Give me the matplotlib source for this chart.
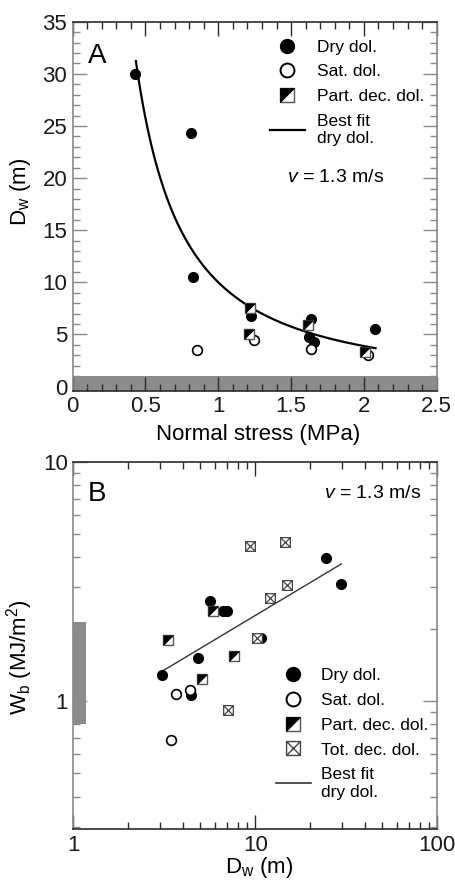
import matplotlib
matplotlib.use("Agg")
import matplotlib.pyplot as plt
import numpy as np
from matplotlib.lines import Line2D
from matplotlib.path import Path
from matplotlib.legend_handler import HandlerTuple
from matplotlib.ticker import MultipleLocator, LogLocator, FuncFormatter, NullFormatter

plt.rcParams['font.family'] = ['Liberation Sans', 'DejaVu Sans']
plt.rcParams['mathtext.fontset'] = 'custom'
plt.rcParams['mathtext.rm'] = 'Liberation Sans'
plt.rcParams['mathtext.it'] = 'Liberation Sans:italic'
plt.rcParams['mathtext.bf'] = 'Liberation Sans:bold'

# ---------------- Panel A data ----------------
a_dry_x = [0.43, 0.815, 0.826, 1.226, 1.637, 1.62, 1.655, 2.077]
a_dry_y = [30.0, 24.3, 10.5, 6.8, 6.5, 4.75, 4.3, 5.5]
a_sat_x = [0.856, 1.244, 1.637, 2.03]
a_sat_y = [3.47, 4.43, 3.63, 3.0]
a_part_x = [1.22, 1.21, 1.614, 2.01]
a_part_y = [7.5, 5.05, 5.9, 3.3]
a_fit_coef = 10.0      # D_w = a * sigma^b
a_fit_exp = -1.364
a_fit_range = (0.434, 2.08)
a_band_top = 1.0

# ---------------- Panel B data ----------------
b_dry_x = [3.07, 4.83, 4.42, 5.63, 6.66, 7.03, 24.6, 29.7, 10.7]
b_dry_y = [1.29, 1.52, 1.06, 2.61, 2.38, 2.38, 3.96, 3.09, 1.84]
b_sat_x = [3.66, 4.38, 3.45]
b_sat_y = [1.07, 1.11, 0.69]
b_part_x = [3.31, 5.08, 7.65, 5.88]
b_part_y = [1.81, 1.24, 1.55, 2.39]
b_tot_x = [9.39, 14.5, 14.9, 12.0, 10.2, 7.1]
b_tot_y = [4.46, 4.63, 3.07, 2.69, 1.83, 0.92]
b_fit_coef = 0.80      # W_b = a * D_w^b
b_fit_exp = 0.455
b_fit_range = (3.04, 29.7)
b_band_x = (1.0, 1.18)
b_band_y = (0.80, 2.15)

GRAY_SP = '#8a8a8a'
DARK_SP = '#2a2a2a'
BAND = '#8c8c8c'

tri_marker = [(-1, -1), (-1, 1), (1, 1), (-1, -1)]
sq_marker = [(-1, -1), (1, -1), (1, 1), (-1, 1), (-1, -1)]
tot_marker = Path([(-1, -1), (1, -1), (1, 1), (-1, 1), (-1, -1),
                   (-1, -1), (1, 1), (-1, 1), (1, -1)],
                  [Path.MOVETO, Path.LINETO, Path.LINETO, Path.LINETO, Path.CLOSEPOLY,
                   Path.MOVETO, Path.LINETO, Path.MOVETO, Path.LINETO])

fig = plt.figure(figsize=(4.56, 8.83), dpi=100)
axA = fig.add_axes([0.1594, 0.5575, 0.7982, 0.4179])
axB = fig.add_axes([0.1607, 0.0608, 0.7982, 0.4163])


def style_axes(ax):
    for s in ['left', 'right']:
        ax.spines[s].set_color(GRAY_SP)
        ax.spines[s].set_linewidth(1.2)
    for s in ['top', 'bottom']:
        ax.spines[s].set_color(DARK_SP)
        ax.spines[s].set_linewidth(1.2)
    ax.tick_params(axis='both', which='both', direction='in', top=True, right=True,
                   labelsize=16, width=1.0, labelcolor='#1a1a1a')
    ax.tick_params(axis='y', which='both', color=GRAY_SP, pad=4)
    ax.tick_params(axis='x', which='both', color=DARK_SP, pad=4)
    ax.tick_params(which='major', length=10)
    ax.tick_params(which='minor', length=5)


def draw_part(ax, xs, ys, ms):
    ax.plot(xs, ys, linestyle='none', marker=sq_marker, ms=ms, mfc='white',
            mec='#555555', mew=1.0, zorder=4)
    ax.plot(xs, ys, linestyle='none', marker=tri_marker, ms=ms, mfc='black',
            mec='black', mew=0.6, zorder=5)


def part_handle(ms):
    h1 = Line2D([], [], linestyle='none', marker=sq_marker, ms=ms, mfc='white',
                mec='#555555', mew=1.0)
    h2 = Line2D([], [], linestyle='none', marker=tri_marker, ms=ms, mfc='black',
                mec='black', mew=0.6)
    return (h1, h2)

# ---------------- Panel A ----------------
ax = axA
style_axes(ax)
ax.set_xlim(0, 2.5)
ax.set_ylim(-0.4, 35)
ax.axhspan(-0.4, a_band_top, color=BAND, lw=0, zorder=1)
xf = np.linspace(a_fit_range[0], a_fit_range[1], 200)
ax.plot(xf, a_fit_coef * xf ** a_fit_exp, color='black', lw=1.6, zorder=3)
ax.plot(a_dry_x, a_dry_y, linestyle='none', marker='o', ms=7, mfc='black',
        mec='black', zorder=4)
ax.plot(a_sat_x, a_sat_y, linestyle='none', marker='o', ms=7, mfc='white',
        mec='black', mew=1.2, zorder=4)
draw_part(ax, a_part_x, a_part_y, 6.5)

ax.xaxis.set_major_locator(MultipleLocator(0.5))
ax.xaxis.set_minor_locator(MultipleLocator(0.1))
ax.yaxis.set_major_locator(MultipleLocator(5))
ax.yaxis.set_minor_locator(MultipleLocator(1))
ax.xaxis.set_major_formatter(FuncFormatter(lambda v, p: '%g' % v))

ax.set_xlabel('Normal stress (MPa)', fontsize=16, va='top')
ax.xaxis.set_label_coords(0.51, -0.09)
ax.set_ylabel(r'D$_\mathregular{w}$ (m)', fontsize=16)
ax.yaxis.set_label_coords(-0.11, 0.54)

ax.text(0.042, 0.907, 'A', transform=ax.transAxes, fontsize=20, va='center', ha='left')
ax.text(0.589, 0.578, r'$\mathit{v}$ = 1.3 m/s', transform=ax.transAxes, fontsize=14,
        va='center', ha='left')

hA = [Line2D([], [], linestyle='none', marker='o', ms=10, mfc='black', mec='black'),
      Line2D([], [], linestyle='none', marker='o', ms=10, mfc='white', mec='black', mew=1.4),
      part_handle(10),
      Line2D([], [], color='black', lw=1.6)]
labA = ['Dry dol.', 'Sat. dol.', 'Part. dec. dol.', 'Best fit\ndry dol.']
ax.legend(hA, labA, loc='upper left', bbox_to_anchor=(0.542, 0.952), frameon=False,
          fontsize=12.5, borderpad=0, handlelength=2.0, handletextpad=0.7,
          labelspacing=0.55, borderaxespad=0,
          handler_map={tuple: HandlerTuple(ndivide=1, pad=0)})

# ---------------- Panel B ----------------
ax = axB
style_axes(ax)
ax.set_xscale('log')
ax.set_yscale('log')
ax.set_xlim(1, 100)
ax.set_ylim(0.292, 10)
ax.fill_betweenx(b_band_y, b_band_x[0], b_band_x[1], color=BAND, lw=0, zorder=1)
xf = np.linspace(b_fit_range[0], b_fit_range[1], 100)
ax.plot(xf, b_fit_coef * xf ** b_fit_exp, color='#333333', lw=1.0, zorder=3)
ax.plot(b_dry_x, b_dry_y, linestyle='none', marker='o', ms=7, mfc='black',
        mec='black', zorder=4)
ax.plot(b_sat_x, b_sat_y, linestyle='none', marker='o', ms=7, mfc='white',
        mec='black', mew=1.2, zorder=4)
draw_part(ax, b_part_x, b_part_y, 6.5)
ax.plot(b_tot_x, b_tot_y, linestyle='none', marker=tot_marker, ms=7, mfc='white',
        mec='#444444', mew=0.9, zorder=5)

for axis in (ax.xaxis, ax.yaxis):
    axis.set_major_locator(LogLocator(base=10, numticks=10))
    axis.set_minor_locator(LogLocator(base=10, subs=np.arange(2, 10), numticks=20))
    axis.set_major_formatter(FuncFormatter(lambda v, p: '%g' % v))
    axis.set_minor_formatter(NullFormatter())

ax.set_xlabel(r'D$_\mathregular{w}$ (m)', fontsize=16, va='top')
ax.xaxis.set_label_coords(0.51, -0.07)
ax.set_ylabel(r'W$_\mathregular{b}$ (MJ/m$^\mathregular{2}$)', fontsize=16)
ax.yaxis.set_label_coords(-0.105, 0.47)

ax.text(0.040, 0.913, 'B', transform=ax.transAxes, fontsize=20, va='center', ha='left')
ax.text(0.957, 0.914, r'$\mathit{v}$ = 1.3 m/s', transform=ax.transAxes, fontsize=14,
        va='center', ha='right')

hB = [Line2D([], [], linestyle='none', marker='o', ms=10, mfc='black', mec='black'),
      Line2D([], [], linestyle='none', marker='o', ms=10, mfc='white', mec='black', mew=1.4),
      part_handle(10),
      Line2D([], [], linestyle='none', marker=tot_marker, ms=10, mfc='white',
             mec='#444444', mew=1.0),
      Line2D([], [], color='#333333', lw=1.2)]
labB = ['Dry dol.', 'Sat. dol.', 'Part. dec. dol.', 'Tot. dec. dol.', 'Best fit\ndry dol.']
ax.legend(hB, labB, loc='upper left', bbox_to_anchor=(0.557, 0.438), frameon=False,
          fontsize=12.5, borderpad=0, handlelength=2.0, handletextpad=0.6,
          labelspacing=0.55, borderaxespad=0,
          handler_map={tuple: HandlerTuple(ndivide=1, pad=0)})

fig.savefig('out.png', dpi=100)
